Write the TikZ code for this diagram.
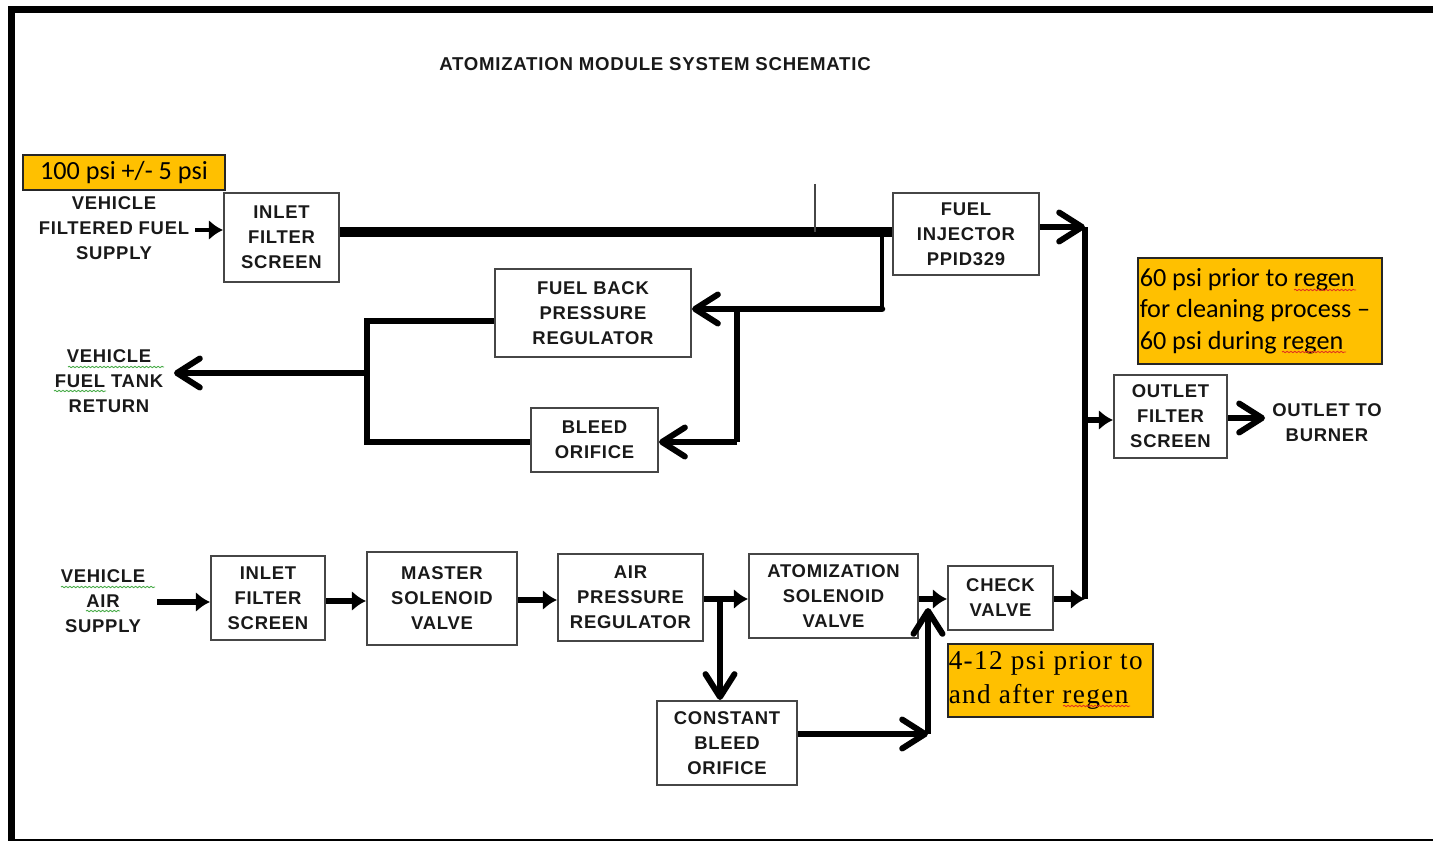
\documentclass[tikz,border=0pt]{standalone}
\usepackage{fontspec}
\usepackage{xcolor}
\usepackage{tikz}
\usetikzlibrary{arrows.meta, decorations.pathmorphing}
\newfontfamily\boxfont[LetterSpace=4]{Liberation Sans}
\newfontfamily\calibrifont{Carlito}
\newfontfamily\cambriafont[LetterSpace=5]{Liberation Serif}
\definecolor{qAmber}{RGB}{255,192,0}
\definecolor{qEdge}{RGB}{70,70,70}
\definecolor{qSpellGreen}{RGB}{70,170,70}
\definecolor{qSpellRed}{RGB}{225,50,30}
\tikzset{
  schembox/.style={draw=qEdge, line width=1.2pt, fill=white, inner sep=0pt, align=center, text=black!90,
    font=\boxfont\bfseries\fontsize{10.5}{14.2}\selectfont},
  schemtext/.style={inner sep=0pt, align=center, text=black!90,
    font=\boxfont\bfseries\fontsize{10.5}{14.2}\selectfont},
  note/.style={draw=black!85, line width=0.7pt, fill=qAmber, inner sep=0pt},
  noteleft/.style={inner sep=0pt, align=left, text=black},
  heavy/.style={line width=5.8pt},
  pipe/.style={line width=3.7pt},
  barb/.style={-{Straight Barb[length=13pt,width=16.5pt,line width=3.4pt,round]}},
  blob/.style={-{Latex[length=8pt,width=11.5pt]}},
  squiggle/.style={line width=0.5pt, decorate, decoration={snake, amplitude=0.4pt, segment length=2.2pt}},
}
\begin{document}
\begin{tikzpicture}[x=0.02cm, y=-0.02cm]
  \clip (0,0) rectangle (1433,841);
  % Frame
  \draw[line width=3.7pt, line join=miter] (1445,9.3) -- (11.3,9.3) -- (11.3,845);
  \draw[line width=1.3pt] (11,840) -- (1445,840);

  % Title
  \node[schemtext, font=\boxfont\bfseries\fontsize{10.6}{12}\selectfont] (title) at (655,64) {ATOMIZATION MODULE SYSTEM SCHEMATIC};

  % Boxes, fuel side
  \node[schembox, minimum width=2.30cm, minimum height=1.78cm] (inletfuel) at (281.5,237.5) {INLET\\FILTER\\SCREEN};
  \node[schembox, minimum width=2.92cm, minimum height=1.64cm] (injector) at (966,234) {FUEL\\INJECTOR\\PPID329};
  \node[schembox, minimum width=3.92cm, minimum height=1.76cm] (backreg) at (593,313) {FUEL BACK\\PRESSURE\\REGULATOR};
  \node[schembox, minimum width=2.54cm, minimum height=1.28cm] (bleed) at (594.5,440) {BLEED\\ORIFICE};

  % Boxes, air side
  \node[schembox, minimum width=2.28cm, minimum height=1.68cm] (inletair) at (268,598) {INLET\\FILTER\\SCREEN};
  \node[schembox, minimum width=3.00cm, minimum height=1.86cm] (master) at (442,598.5) {MASTER\\SOLENOID\\VALVE};
  \node[schembox, minimum width=2.90cm, minimum height=1.74cm] (airreg) at (630.5,597.5) {AIR\\PRESSURE\\REGULATOR};
  \node[schembox, minimum width=3.38cm, minimum height=1.68cm] (atomvalve) at (833.5,596) {ATOMIZATION\\SOLENOID\\VALVE};
  \node[schembox, minimum width=2.10cm, minimum height=1.28cm] (check) at (1000.5,598) {CHECK\\VALVE};
  \node[schembox, minimum width=2.80cm, minimum height=1.68cm] (constbleed) at (727,743) {CONSTANT\\BLEED\\ORIFICE};
  \node[schembox, minimum width=2.26cm, minimum height=1.66cm] (outletfilter) at (1170.5,416.5) {OUTLET\\FILTER\\SCREEN};

  % Free labels
  \node[schemtext] (fuelsupply) at (114,228) {VEHICLE\\FILTERED FUEL\\SUPPLY};
  \node[schemtext] (tankreturn) at (109,381) {VEHICLE\\FUEL TANK\\RETURN};
  \node[schemtext] (airsupply) at (103,601) {VEHICLE\\AIR\\SUPPLY};
  \node[schemtext] (burner) at (1327,423) {OUTLET TO\\BURNER};

  % Amber notes
  \node[note, minimum width=4.04cm, minimum height=0.70cm, font=\calibrifont\fontsize{14.9}{18}\selectfont] (notefuel) at (124,172.5) {100 psi +/- 5 psi};
  \node[note, minimum width=4.88cm, minimum height=2.12cm] (noteoutlet) at (1260,311) {};
  \node[noteleft, anchor=west, xshift=0.04cm, font=\calibrifont\fontsize{14.9}{17.8}\selectfont] (noteoutlettext) at (noteoutlet.west) {60 psi prior to regen\\for cleaning process –\\60 psi during regen};
  \node[note, minimum width=4.10cm, minimum height=1.46cm] (noteair) at (1050.5,680.5) {};
  \node[noteleft, anchor=west, xshift=0.02cm, font=\cambriafont\fontsize{15.5}{19.5}\selectfont] (noteairtext) at (noteair.west) {4-12 psi prior to\\and after regen};

  % Spelling marks
  \draw[squiggle, qSpellGreen] (68,367) -- (164,367);
  \draw[squiggle, qSpellGreen] (54,391) -- (106,391);
  \draw[squiggle, qSpellGreen] (61,587) -- (155,587);
  \draw[squiggle, qSpellGreen] (86,611) -- (120,611);
  \draw[squiggle, qSpellRed] (1294,290) -- (1356,290);
  \draw[squiggle, qSpellRed] (1282,352) -- (1346,352);
  \draw[squiggle, qSpellRed] (1063,706) -- (1130,706);

  % Junction points
  \coordinate (fuelmain) at (882,232);
  \coordinate (backtap) at (882,309);
  \coordinate (bleedtap) at (737,309);
  \coordinate (bleedin) at (737,442);
  \coordinate (returntop) at (367,321);
  \coordinate (returnmid) at (367,373);
  \coordinate (returnlow) at (367,442);
  \coordinate (tanktip) at (174,373);
  \coordinate (collecttop) at (1085,227);
  \coordinate (collectlow) at (1085,599);
  \coordinate (outlettap) at (1085,420);
  \coordinate (airtap) at (720,599);
  \coordinate (mergelow) at (928,734);
  \coordinate (mergetop) at (928,608);
  \coordinate (gaugetop) at (815,184);
  \coordinate (fuelstart) at (195,230);
  \coordinate (airstart) at (157,602);
  \coordinate (burnertip) at (1265,418);

  % Fuel lines
  \draw[blob, line width=2.8pt] (fuelstart) -- (inletfuel.west |- fuelstart);
  \draw[heavy] (inletfuel.east |- fuelmain) -- (injector.west |- fuelmain);
  \draw[line width=1.4pt, qEdge] (gaugetop) -- (gaugetop |- fuelmain);
  \draw[line width=2.6pt] (fuelmain) -- (backtap);
  \draw[pipe, line cap=round] (backtap) -- (bleedtap);
  \draw[barb, pipe] (bleedtap) -- (backreg.east |- backtap);
  \draw[pipe] (bleedtap) -- (bleedin);
  \draw[barb, pipe] (bleedin) -- (bleed.east |- bleedin);
  \draw[pipe] (backreg.west |- returntop) -- (returntop) -- (returnlow) -- (bleed.west |- returnlow);
  \draw[barb, pipe] (returnmid) -- (tanktip);

  % Air lines
  \draw[blob, pipe] (airstart) -- (inletair.west |- airstart);
  \draw[blob, pipe] (inletair.east |- 0,601) -- (master.west |- 0,601);
  \draw[blob, pipe] (master.east |- 0,600) -- (airreg.west |- 0,600);
  \draw[blob, pipe] (airreg.east |- airtap) -- (atomvalve.west |- airtap);
  \draw[barb, pipe] (airtap) -- (airtap |- constbleed.north);
  \draw[blob, pipe] (atomvalve.east |- airtap) -- (check.west |- airtap);
  \draw[barb, pipe] (constbleed.east |- mergelow) -- (mergelow);
  \draw[barb, pipe] (mergelow) -- (mergetop);

  % Outlet collector
  \draw[pipe] (collectlow) -- (collecttop);
  \draw[blob, pipe] (check.east |- collectlow) -- (collectlow);
  \draw[barb, pipe] (injector.east |- collecttop) -- (collecttop);
  \draw[blob, pipe] (outlettap) -- (outletfilter.west |- outlettap);
  \draw[barb, pipe] (outletfilter.east |- burnertip) -- (burnertip);
\end{tikzpicture}
\end{document}
